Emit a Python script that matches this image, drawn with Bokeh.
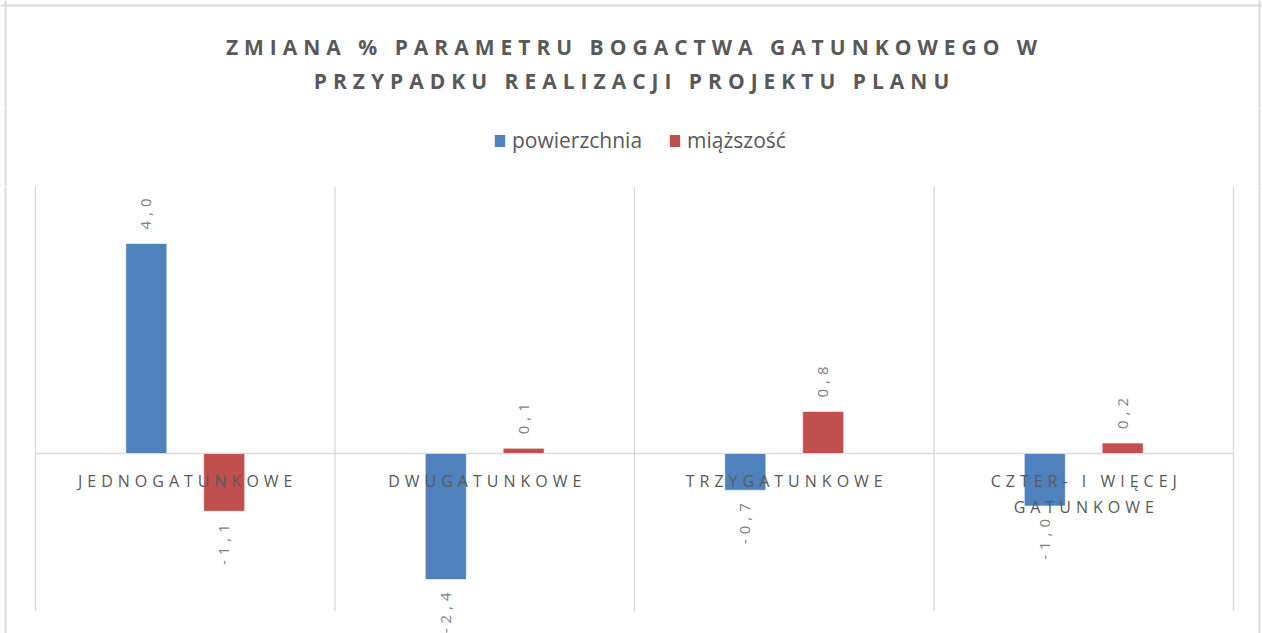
import math
from bokeh.plotting import figure
from bokeh.layouts import column
from bokeh.models import (ColumnDataSource, Span, Label, Legend, LegendItem, Range1d)
from bokeh.core.properties import value
from bokeh.embed import file_html
from bokeh.resources import INLINE

# ---- data ----
categories = ["JEDNOGATUNKOWE", "DWUGATUNKOWE", "TRZYGATUNKOWE", "CZTER- I WIĘCEJ\nGATUNKOWE"]
powierzchnia = [4.0, -2.4, -0.7, -1.0]
miazszosc = [-1.1, 0.1, 0.8, 0.2]
series_names = ["powierzchnia", "miąższość"]
title_lines = ["ZMIANA % PARAMETRU BOGACTWA GATUNKOWEGO W", "PRZYPADKU REALIZACJI PROJEKTU PLANU"]
y_axis_min, y_axis_max = -3.0, 5.08

BLUE = "#4f81bd"
RED = "#c0504d"
GRID = "#d9d9d9"
TXT = "#595959"
VAL = "#7f7f7f"
FONT = "Open Sans"

W = 1262
H_TITLE, H_LEG, H_MAIN = 108, 78, 447
LS_TITLE, LS_MAIN = 6.0, 5.0


def blank_fig(h, ls):
    f = figure(width=W, height=h, output_backend="svg", toolbar_location=None,
               x_axis_type=None, y_axis_type=None,
               x_range=Range1d(0, W), y_range=Range1d(0, h),
               min_border_left=0, min_border_right=0, min_border_top=0, min_border_bottom=0)
    f.outline_line_color = None
    f.background_fill_color = "white"
    f.border_fill_color = "white"
    f.grid.visible = False
    f.styles = {"letter-spacing": f"{ls}px"}
    for loc in (5, W - 3):
        f.add_layout(Span(location=loc, location_units="screen", dimension="height",
                          line_color=GRID, line_width=2))
    return f


# ---------- title ----------
ft = blank_fig(H_TITLE, LS_TITLE)
ft.add_layout(Span(location=H_TITLE - 5, location_units="screen", dimension="width",
                   line_color=GRID, line_width=2))
for line, yy in zip(title_lines, [H_TITLE - 46, H_TITLE - 80]):
    ft.add_layout(Label(x=631, y=yy, x_units="screen", y_units="screen", text=line,
                        x_offset=-LS_TITLE * (len(line) - 1) / 2,
                        text_font=FONT, text_font_size="21px", text_font_style="bold",
                        text_color=TXT, text_align="center", text_baseline="middle"))

# ---------- legend ----------
fl = blank_fig(H_LEG, 0)
# legend-key renderers (their single point lies outside the visible range)
lb = fl.vbar(x=[-1000], top=[1], width=1, fill_color=BLUE, line_color=None)
lr = fl.vbar(x=[-1000], top=[1], width=1, fill_color=RED, line_color=None)
legend = Legend(items=[LegendItem(label=series_names[0], renderers=[lb]),
                       LegendItem(label=series_names[1], renderers=[lr])],
                location=(493, H_LEG - 46), orientation="horizontal",
                glyph_width=13, glyph_height=15, label_standoff=6, spacing=26,
                padding=0, margin=0, border_line_color=None, background_fill_alpha=0,
                label_text_font=FONT, label_text_font_size="21px", label_text_color=TXT)
fl.add_layout(legend, "center")

# ---------- main chart ----------
PX_LEFT, PX_RIGHT, PX_ZERO, PX_PER_Y = 35.0, 1233.0, 267.0, 52.5
n = len(categories)
px_per_x = (PX_RIGHT - PX_LEFT) / n
p = figure(width=W, height=H_MAIN, output_backend="svg", toolbar_location=None,
           x_axis_type=None, y_axis_type=None,
           x_range=Range1d(-PX_LEFT / px_per_x, n + (W - PX_RIGHT) / px_per_x),
           y_range=Range1d(-(H_MAIN - PX_ZERO) / PX_PER_Y, PX_ZERO / PX_PER_Y),
           min_border_left=0, min_border_right=0, min_border_top=0, min_border_bottom=0)
p.outline_line_color = None
p.background_fill_color = "white"
p.border_fill_color = "white"
p.grid.visible = False
p.styles = {"letter-spacing": f"{LS_MAIN}px"}
for loc in (5, W - 3):
    p.add_layout(Span(location=loc, location_units="screen", dimension="height",
                      line_color=GRID, line_width=2))

bounds = list(range(n + 1))
p.segment(x0=bounds, y0=[y_axis_min] * (n + 1), x1=bounds, y1=[y_axis_max] * (n + 1),
          line_color=GRID, line_width=1.3)
p.segment(x0=[0], y0=[0], x1=[n], y1=[0], line_color=GRID, line_width=1.6)

centers = [i + 0.5 for i in range(n)]
off = 0.13
bw = 0.137
src_b = ColumnDataSource(dict(x=[c - off for c in centers], top=powierzchnia))
src_r = ColumnDataSource(dict(x=[c + off for c in centers], top=miazszosc))
p.vbar(x="x", top="top", bottom=0, width=bw, source=src_b, fill_color=BLUE,
       line_color="white", line_width=0.6)
p.vbar(x="x", top="top", bottom=0, width=bw, source=src_r, fill_color=RED,
       line_color="white", line_width=0.6)

# category labels (on top of bars), one row per text line
cx, cy, ct, cxo, cyo = [], [], [], [], []
for c, lab in zip(centers, categories):
    for i, line in enumerate(lab.split("\n")):
        cx.append(c); cy.append(0); ct.append(line)
        cxo.append(-LS_MAIN * (len(line) - 1) / 2)
        cyo.append(16 + 26 * i)
p.text(x="x", y="y", text="t", x_offset="xo", y_offset="yo",
       source=ColumnDataSource(dict(x=cx, y=cy, t=ct, xo=cxo, yo=cyo)),
       text_font=value(FONT), text_font_size="16px", text_color=TXT,
       text_align="center", text_baseline="top")


def fmt(v):
    return f"{v:.1f}".replace(".", ",")


vx = [c - off for c in centers] + [c + off for c in centers]
vy = powierzchnia + miazszosc
pos = [(x, y, fmt(y)) for x, y in zip(vx, vy) if y >= 0]
neg = [(x, y, fmt(y)) for x, y in zip(vx, vy) if y < 0]
sp = ColumnDataSource(dict(x=[a for a, _, _ in pos], y=[b for _, b, _ in pos],
                           t=[c for _, _, c in pos]))
sn = ColumnDataSource(dict(x=[a for a, _, _ in neg], y=[b for _, b, _ in neg],
                           t=[c for _, _, c in neg],
                           yo=[13 + LS_MAIN * (len(c) - 1) for _, _, c in neg]))
p.text(x="x", y="y", text="t", source=sp, angle=math.pi / 2, text_align="left",
       text_baseline="middle", y_offset=-14, text_font=value(FONT), text_font_size="15px",
       text_color=VAL)
p.text(x="x", y="y", text="t", source=sn, angle=math.pi / 2, text_align="right",
       text_baseline="middle", y_offset="yo", text_font=value(FONT), text_font_size="15px",
       text_color=VAL)

layout = column(ft, fl, p, spacing=0)
open("out.html", "w").write(file_html(layout, INLINE))
